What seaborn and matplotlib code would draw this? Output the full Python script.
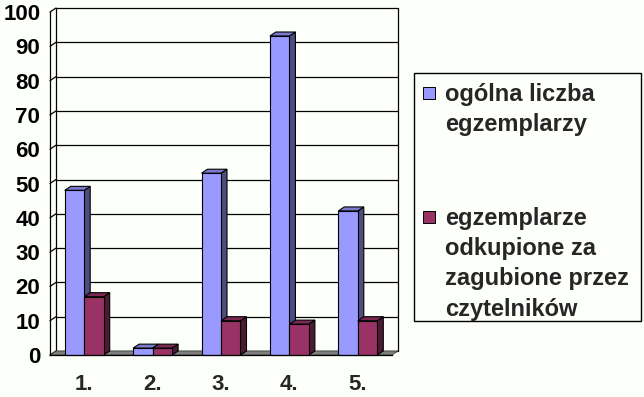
import matplotlib
matplotlib.use("Agg")
import matplotlib.pyplot as plt
from matplotlib.patches import Polygon, Rectangle
import seaborn as sns
import pandas as pd
import numpy as np

categories = ["1.", "2.", "3.", "4.", "5."]
series_names = ["ogólna liczba\negzemplarzy",
                "egzemplarze\nodkupione za\nzagubione przez\nczytelników"]
total_copies = [48, 2, 53, 93, 42]
bought_back = [17, 2, 10, 9, 10]
y_ticks = [0, 10, 20, 30, 40, 50, 60, 70, 80, 90, 100]

front_colors = ["#9999FF", "#993366"]
top_colors = ["#7A7ACC", "#7A2952"]
side_colors = ["#4D4D80", "#4D1A33"]
bg = "#FCFFFA"

sns.set_style("white")
plt.rcParams['font.family'] = ['Liberation Sans', 'DejaVu Sans']

W, H = 644, 397
fig = plt.figure(figsize=(W / 100, H / 100), dpi=100, facecolor=bg)
ax_l, ax_b, ax_w, ax_h = 50, 42, 342, 343
ax = fig.add_axes([ax_l / W, ax_b / H, ax_w / W, ax_h / H])
ax.set_facecolor("none")

df = pd.DataFrame({
    "cat": categories * 2,
    "val": total_copies + bought_back,
    "series": [series_names[0]] * 5 + [series_names[1]] * 5,
})
sns.barplot(data=df, x="cat", y="val", hue="series", order=categories,
            hue_order=series_names, palette=front_colors, width=0.57,
            saturation=1, edgecolor="black", linewidth=0.8, legend=False, ax=ax)

ax.set_xlim(-0.5, 4.5)
ax.set_ylim(0, 100)
# depth offsets in data units (6 px right, 4 px up)
dx = 6 / (ax_w / 5)
dy = 4 / (ax_h / 100)

# back wall grid lines
for v in y_ticks:
    ax.plot([-0.5 + dx, 4.5 + dx], [v + dy, v + dy], color="black", lw=0.9,
            zorder=0.5, clip_on=False)
    ax.plot([-0.5, -0.5 + dx], [v, v + dy], color="black", lw=0.9,
            zorder=0.5, clip_on=False)
ax.plot([-0.5 + dx, -0.5 + dx], [dy, 100 + dy], color="black", lw=0.9, zorder=0.5, clip_on=False)
ax.plot([4.5 + dx, 4.5 + dx], [dy, 100 + dy], color="black", lw=0.9, zorder=0.5, clip_on=False)

# floor
ax.add_patch(Polygon([(-0.5, 0), (4.5, 0), (4.5 + dx, dy), (-0.5 + dx, dy)],
                     closed=True, facecolor="#808080", edgecolor="#404040",
                     lw=0.6, zorder=1, clip_on=False))

# 3D faces
bars = list(ax.patches)[:10]
n = len(categories)
z = 2.0
for i in range(n):
    for s in range(2):
        b = bars[s * n + i]
        x0 = b.get_x(); x1 = x0 + b.get_width(); h = b.get_height()
        side = Polygon([(x1, 0), (x1 + dx, dy), (x1 + dx, h + dy), (x1, h)],
                       closed=True, facecolor=side_colors[s], edgecolor="black",
                       lw=0.8, zorder=z, clip_on=False)
        top = Polygon([(x0, h), (x1, h), (x1 + dx, h + dy), (x0 + dx, h + dy)],
                      closed=True, facecolor=top_colors[s], edgecolor="black",
                      lw=0.8, zorder=z + 0.01, clip_on=False)
        ax.add_patch(side); ax.add_patch(top)
        b.set_zorder(z + 0.02)
        b.set_clip_on(False)
        z += 0.1

# axes styling
for sp in ["top", "right"]:
    ax.spines[sp].set_visible(False)
for sp in ["left", "bottom"]:
    ax.spines[sp].set_color("black")
    ax.spines[sp].set_linewidth(0.9)
    ax.spines[sp].set_zorder(10)
ax.set_yticks(y_ticks)
ax.set_yticklabels([str(v) for v in y_ticks])
ax.tick_params(axis="y", direction="out", length=3.5, width=0.9, pad=3.5,
               labelsize=16, colors="black")
ax.set_xticks(range(n))
ax.set_xticklabels(categories)
ax.set_xticks(np.arange(-0.5, n, 1.0), minor=True)
ax.tick_params(axis="x", which="major", length=0, pad=14, labelsize=16)
ax.tick_params(axis="x", which="minor", direction="out", length=4, width=0.9)
for lab in ax.get_xticklabels() + ax.get_yticklabels():
    lab.set_fontweight("bold")
ax.set_xlabel(""); ax.set_ylabel("")
ax.grid(False)

# legend box
lx0, ly0, lx1, ly1 = 414, 73, 641, 321
fig.add_artist(Rectangle((lx0 / W, 1 - ly1 / H), (lx1 - lx0) / W, (ly1 - ly0) / H,
                         transform=fig.transFigure, facecolor="none",
                         edgecolor="black", lw=1.0))
line_h = 30.5
starts = [94, 218]
for s, name in enumerate(series_names):
    yc = starts[s]
    fig.add_artist(Rectangle((423 / W, 1 - (yc + 5) / H), 12 / W, 12 / H,
                             transform=fig.transFigure, facecolor=front_colors[s],
                             edgecolor="black", lw=0.7))
    for k, line in enumerate(name.split("\n")):
        fig.text(445 / W, 1 - (yc + k * line_h) / H, line, ha="left",
                 va="center", fontsize=17, fontweight="bold")

fig.savefig("out.png", dpi=100, facecolor=bg)
